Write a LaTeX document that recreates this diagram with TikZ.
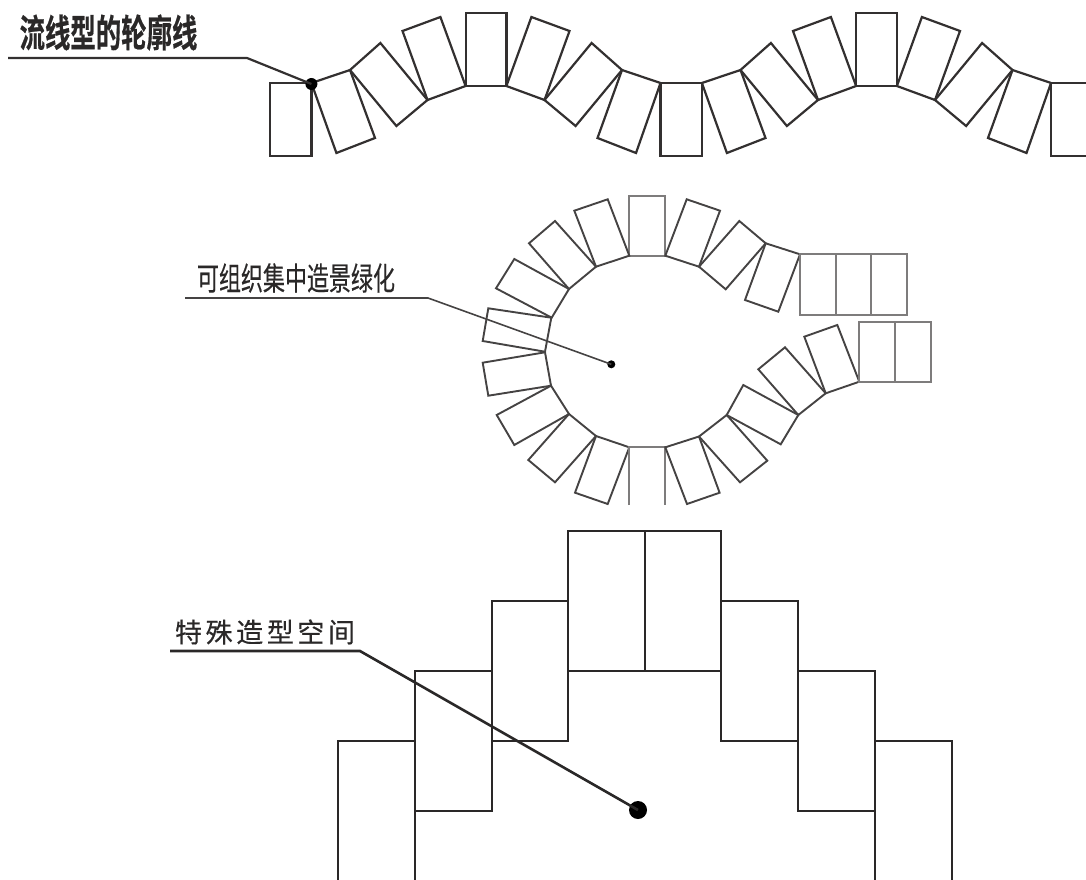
\documentclass[tikz,border=0pt]{standalone}
\usepackage{fontspec}
\usepackage{graphicx}
\newfontfamily\cjkfont[FakeBold=0.4]{Noto Sans CJK SC}
\newfontfamily\cjkbold[FakeBold=0.6]{Noto Sans CJK SC Bold}
\definecolor{inkA}{HTML}{333030}
\definecolor{inkB}{HTML}{454343}
\definecolor{inkC}{HTML}{7E7C7C}
\definecolor{inkD}{HTML}{2A2828}
\tikzset{
  unitA/.style={draw=inkA,line width=2.2pt,line join=miter},
  unitB/.style={draw=inkB,line width=1.9pt,line join=miter},
  unitL/.style={draw=inkC,line width=1.9pt,line join=miter},
  unitC/.style={draw=inkD,line width=2.3pt,line join=miter},
  leadA/.style={draw=inkA,line width=2.2pt},
  leadB/.style={draw=inkB,line width=1.6pt},
  leadC/.style={draw=inkD,line width=2.6pt},
  dotmark/.style={circle,fill=black,inner sep=0pt,minimum size=#1},
  caption/.style={inner sep=0pt,anchor=center,text=inkD}
}
\newcommand{\wavehalf}{%
  \draw[unitA] (270,83) rectangle (311.4,156);
  \draw[unitA] (311.4,83) -- (350,70) -- (375,138) -- (336.4,153) -- cycle;
  \draw[unitA] (350,70) -- (380.4,43) -- (427.5,100) -- (396.4,126) -- cycle;
  \draw[unitA] (427.5,100) -- (402.5,31) -- (440.4,17) -- (465.6,86) -- cycle;
  \draw[unitA] (465.6,13) rectangle (506.4,86);
  \draw[unitA] (506.4,86) -- (531.4,17) -- (569.5,31) -- (544.5,100) -- cycle;
  \draw[unitA] (544.5,100) -- (591.6,43) -- (622,70) -- (575.6,126) -- cycle;
  \draw[unitA] (622,70) -- (660.5,83) -- (636,153) -- (597.5,138) -- cycle;
}
\begin{document}
\begin{tikzpicture}[x=1pt,y=-1pt]
\useasboundingbox (0,0) rectangle (1086,880);
% top band
\wavehalf
\begin{scope}[shift={(390.5,0)}]
\wavehalf
\end{scope}
\draw[unitA] (1086,83) -- (1051,83) -- (1051,156) -- (1086,156);
\node[caption] (capA) at (108.5,32.5) {\cjkbold\fontsize{25.4}{25.4}\selectfont\scalebox{1}[1.5]{流线型的轮廓线}};
\coordinate (capAstart) at (8,58);
\coordinate (capAbend) at (247,58);
\node[dotmark=12pt] (dotA) at (311.4,84) {};
\draw[leadA] (capAstart) -- (capAbend) -- (dotA.center);

% ring
\draw[unitL] (629.3,195.7) rectangle (665.3,255.7);
\draw[unitB] (629.3,255.7) -- (596,266.7) -- (574.3,210.7) -- (607.7,199.3) -- cycle;
\draw[unitB] (596,266.7) -- (569,289) -- (529,243.3) -- (555,221) -- cycle;
\draw[unitB] (569,289) -- (551.7,317.7) -- (496,288.3) -- (514.3,259) -- cycle;
\draw[unitB] (551.3,317.7) -- (545,351.7) -- (482.7,341) -- (488.3,308.3) -- cycle;
\draw[unitB] (545,352.3) -- (551,385.7) -- (488.3,395.7) -- (482.7,362.7) -- cycle;
\draw[unitB] (551,385.7) -- (569,414) -- (514.3,445) -- (496.7,415) -- cycle;
\draw[unitB] (569,414) -- (596,436) -- (555,482.3) -- (528.3,460) -- cycle;
\draw[unitB] (596,436) -- (629.3,447.3) -- (607.7,504) -- (575,492.7) -- cycle;
\draw[unitL] (629.3,505) -- (629.3,447.3) -- (665.3,447.3) -- (665.3,505);
\draw[unitB] (665.3,447.3) -- (699,436.5) -- (719.6,492.7) -- (687,504) -- cycle;
\draw[unitB] (699,436.5) -- (726.7,415) -- (767.3,460.7) -- (740,482.3) -- cycle;
\draw[unitB] (726.7,415) -- (743.3,385) -- (798.3,415) -- (780.7,444.3) -- cycle;
\draw[unitB] (798.3,415) -- (825.7,393.3) -- (785,347.3) -- (758.3,369.3) -- cycle;
\draw[unitB] (825.7,393.3) -- (859.3,381.7) -- (837.3,325) -- (804.3,336.7) -- cycle;
\draw[unitL] (859.3,321.7) rectangle (895,381.7);
\draw[unitL] (895,321.7) rectangle (930.7,381.7);
\draw[unitB] (665.3,255.7) -- (699,266.7) -- (720,210.7) -- (686.7,199.3) -- cycle;
\draw[unitB] (699,266.7) -- (725.7,289.3) -- (765.7,243.3) -- (739.3,221) -- cycle;
\draw[unitB] (765.7,243.3) -- (800,254.3) -- (778.3,311.7) -- (745,300) -- cycle;
\draw[unitL] (800,254.3) rectangle (836,315);
\draw[unitL] (836,254.3) rectangle (871.3,315);
\draw[unitL] (871.3,254.3) rectangle (906.7,315);
\node[caption] (capB) at (296,278) {\cjkfont\fontsize{22}{22}\selectfont\scalebox{1}[1.45]{可组织集中造景绿化}};
\coordinate (capBstart) at (185,298);
\coordinate (capBbend) at (428,298);
\node[dotmark=8pt] (dotB) at (611.3,364.3) {};
\draw[leadB] (capBstart) -- (capBbend) -- (dotB.center);

% stepped block
\draw[unitC] (415,880) -- (415,741) -- (338,741) -- (338,880);
\draw[unitC] (415,671) rectangle (492,811);
\draw[unitC] (492,601) rectangle (568,741);
\draw[unitC] (568,531) rectangle (645,671);
\draw[unitC] (645,531) rectangle (721,671);
\draw[unitC] (721,601) rectangle (798,741);
\draw[unitC] (798,671) rectangle (875,811);
\draw[unitC] (952,880) -- (952,741) -- (875,741) -- (875,880);
\node[caption] (capC) at (265,632) {\hbox to 180pt{\cjkfont\fontsize{27}{27}\selectfont 特\hfill 殊\hfill 造\hfill 型\hfill 空\hfill 间}};
\coordinate (capCstart) at (170,651);
\coordinate (capCbend) at (360,651);
\node[dotmark=18pt] (dotC) at (638,810) {};
\draw[leadC] (capCstart) -- (capCbend) -- (dotC.center);
\end{tikzpicture}
\end{document}
